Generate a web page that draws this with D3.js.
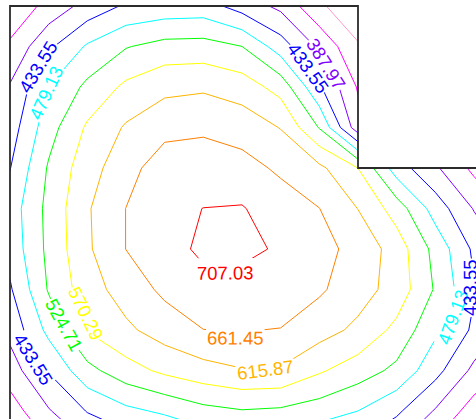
<!DOCTYPE html>
<html>
<head>
<meta charset="utf-8">
<script src="https://cdn.jsdelivr.net/npm/d3@7"></script>
<style>
html, body { margin: 0; padding: 0; background: #ffffff; }
svg { display: block; }
</style>
</head>
<body>
<svg id="chart" width="476" height="419"></svg>
<script>
// ---- contour levels and colours ----
const levels = [296.81, 342.39, 387.97, 433.55, 479.13, 524.71, 570.29, 615.87, 661.45, 707.03];
const levelColors = ["#ff99cc", "#ff00ff", "#8000ff", "#0000ff", "#00ffff", "#00ff00", "#ffff00", "#ffb400", "#ff8000", "#ff0000"];

// ---- sampled field (rows top->bottom, 14 columns); notch nodes are hidden ----
const gridCols = 14, gridRows = 12;
const row0  = [305, 358, 404, 440, 450, 453, 414, 377, 305, 260, 230, 210, 190, 170];
const row1  = [351, 425, 485, 522, 541, 543, 525, 456, 379, 302, 270, 250, 230, 210];
const row2  = [392, 480, 535, 580, 605, 609, 594, 553, 440, 338, 300, 280, 260, 240];
const row3  = [411, 506, 577, 621, 645, 655, 643, 614, 522, 360, 340, 320, 300, 280];
const row4  = [432, 530, 598, 642, 690, 682, 677, 654, 626, 570, 456, 395, 331, 290];
const row5  = [455, 538, 611, 662, 695, 707.5, 710, 683, 662, 615, 549, 459, 385, 330];
const row6  = [450, 536, 609, 662, 685, 718, 715, 703, 675, 648, 595, 510, 425, 370];
const row7  = [428, 529, 596, 636, 671, 688, 694, 688, 668, 635, 598, 520, 437, 380];
const row8  = [401, 492, 573, 607, 637, 661, 663, 660, 634, 606, 558, 488, 425, 370];
const row9  = [366, 437, 511, 552, 580, 599, 613, 611, 576, 547, 514, 449, 377, 330];
const row10 = [319, 384, 436, 468, 487, 511, 522, 517, 502, 479, 442, 384, 320, 280];
const row11 = [275, 330, 375, 395, 405, 430, 432, 427, 420, 420, 380, 325, 270, 220];
const fieldValues = [].concat(row0, row1, row2, row3, row4, row5, row6, row7, row8, row9, row10, row11);

// ---- contour labels: level and the approximate spot beside its line ----
const labelLevel = [433.55, 479.13, 387.97, 433.55, 707.03, 661.45, 615.87, 570.29, 524.71, 433.55, 479.13, 433.55];
const labelNear  = [[38,67],[46,93],[326,64],[308,68],[225,273],[235,338],[265,370],[86,314],[64,325],[33,359],[453,317],[470,289]];

// ---- layout ----
const W = 476, H = 419;
const plotLeft = 10, plotTop = 6, notchX = 358, notchY = 168;
const notchCol = 9, notchRow = 4;
const cellW = (notchX - plotLeft) / notchCol, cellH = (notchY - plotTop) / notchRow;
const fontSize = 18.5;

const svg = d3.select("#chart");
const x = d3.scaleLinear().domain([0.5, gridCols - 0.5]).range([plotLeft, plotLeft + (gridCols - 1) * cellW]);
const y = d3.scaleLinear().domain([0.5, gridRows - 0.5]).range([plotTop, plotTop + (gridRows - 1) * cellH]);

const contours = d3.contours().size([gridCols, gridRows]).thresholds(levels)(fieldValues);
const proj = d3.geoTransform({ point: function(px, py) { this.stream.point(x(px), y(py)); } });
const path = d3.geoPath(proj);

const defs = svg.append("defs");
defs.append("clipPath").attr("id", "domain")
  .append("path")
  .attr("d", `M${plotLeft},${plotTop}H${notchX}V${notchY}H${W + 30}V${H + 30}H${plotLeft}Z`);

const masks = levels.map((lv, i) => {
  const m = defs.append("mask").attr("id", "lvmask" + i)
    .attr("maskUnits", "userSpaceOnUse").attr("x", -50).attr("y", -50)
    .attr("width", W + 100).attr("height", H + 100);
  m.append("rect").attr("x", -50).attr("y", -50).attr("width", W + 100).attr("height", H + 100).attr("fill", "#fff");
  return m;
});

const plot = svg.append("g").attr("clip-path", "url(#domain)");
contours.forEach((c, i) => {
  plot.append("g").attr("mask", `url(#lvmask${i})`)
    .append("path")
    .attr("d", path(c))
    .attr("fill", "none")
    .attr("stroke", levelColors[i])
    .attr("stroke-width", 1)
    .attr("stroke-linejoin", "round");
});

// ---- label placement from the contour geometry ----
function pixelRings(c) {
  const rings = [];
  c.coordinates.forEach(poly => poly.forEach(ring => rings.push(ring.map(p => [x(p[0]), y(p[1])]))));
  return rings;
}
function cumLengths(ring) {
  const cum = [0];
  for (let k = 1; k < ring.length; k++) cum.push(cum[k - 1] + Math.hypot(ring[k][0] - ring[k - 1][0], ring[k][1] - ring[k - 1][1]));
  return cum;
}
function pointAt(ring, cum, s) {
  const T = cum[cum.length - 1];
  s = ((s % T) + T) % T;
  let k = d3.bisectRight(cum, s) - 1;
  if (k >= ring.length - 1) k = ring.length - 2;
  if (k < 0) k = 0;
  const seg = cum[k + 1] - cum[k];
  const t = seg ? (s - cum[k]) / seg : 0;
  return [ring[k][0] + t * (ring[k + 1][0] - ring[k][0]), ring[k][1] + t * (ring[k + 1][1] - ring[k][1])];
}

const labelLayer = svg.append("g").attr("clip-path", "url(#domain)");
labelLevel.forEach((lv, j) => {
  const i = levels.indexOf(lv);
  const rings = pixelRings(contours[i]);
  const [ax, ay] = labelNear[j];
  let best = null;
  rings.forEach(ring => {
    const cum = cumLengths(ring);
    for (let k = 0; k < ring.length - 1; k++) {
      const [x1, y1] = ring[k], [x2, y2] = ring[k + 1];
      const dx = x2 - x1, dy = y2 - y1, L2 = dx * dx + dy * dy;
      let t = L2 ? ((ax - x1) * dx + (ay - y1) * dy) / L2 : 0;
      t = Math.max(0, Math.min(1, t));
      const px = x1 + t * dx, py = y1 + t * dy;
      const d = (px - ax) ** 2 + (py - ay) ** 2;
      if (!best || d < best.d) best = { d, ring, cum, s: cum[k] + t * Math.sqrt(L2), px, py };
    }
  });
  const text = labelLayer.append("text")
    .attr("font-family", "'Liberation Sans', Arial, sans-serif")
    .attr("font-size", fontSize)
    .attr("fill", levelColors[i])
    .attr("text-anchor", "middle")
    .attr("dominant-baseline", "central")
    .text(lv.toFixed(2));
  const tw = text.node().getComputedTextLength();
  const p0 = pointAt(best.ring, best.cum, best.s - tw / 2);
  const p1 = pointAt(best.ring, best.cum, best.s + tw / 2);
  let a = Math.atan2(p1[1] - p0[1], p1[0] - p0[0]) * 180 / Math.PI;
  if (a > 90) a -= 180;
  if (a <= -90) a += 180;
  const ar = a * Math.PI / 180;
  const nx = -Math.sin(ar), ny = Math.cos(ar);
  const off = Math.max(-10, Math.min(10, (ax - best.px) * nx + (ay - best.py) * ny));
  const tf = `translate(${best.px},${best.py}) rotate(${a})`;
  text.attr("transform", tf).attr("x", 0).attr("y", off);
  const y0 = Math.min(0, off) - 6, y1 = Math.max(0, off) + 7;
  masks[i].append("rect")
    .attr("transform", tf)
    .attr("x", -tw / 2 - 1).attr("y", y0)
    .attr("width", tw + 2).attr("height", y1 - y0)
    .attr("fill", "#000");
});

// ---- axes box of the L-shaped domain ----
svg.append("path")
  .attr("d", `M${plotLeft},${H + 5}V${plotTop}H${notchX}V${notchY}H${W + 5}`)
  .attr("fill", "none")
  .attr("stroke", "#2b2b2b")
  .attr("stroke-width", 1.8);
</script>
</body>
</html>
